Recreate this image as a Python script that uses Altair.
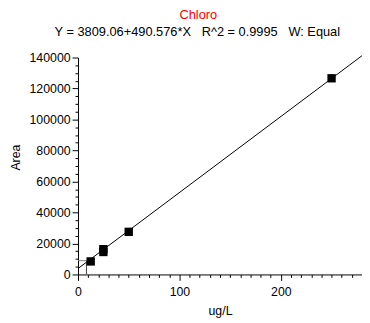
import altair as alt
import pandas as pd

# Calibration points (ug/L, Area)
conc = [12.5, 25, 25, 50, 250]
area = [8400, 14500, 16300, 27500, 126600]

# Fitted line end points (Y = 3809.06 + 490.576*X)
fit_x = [0, 282]
fit_y = [3809.06, 142151]

# Sample crosshair
cross_x = [8.3]
cross_y = [8900]

title_text = "Chloro"
subtitle_text = "Y = 3809.06+490.576*X\u00a0\u00a0\u00a0R^2 = 0.9995\u00a0\u00a0\u00a0W: Equal"

x_ticks = list(range(0, 281, 10))
y_ticks = list(range(0, 140001, 5000))

FONT = "Liberation Sans"

pts = pd.DataFrame({"x": conc, "y": area})
fit = pd.DataFrame({"x": fit_x, "y": fit_y})
cross = pd.DataFrame({"x": cross_x, "y": cross_y, "x0": [0], "y0": [0]})
txt = pd.DataFrame({"t": [title_text], "s": [subtitle_text]})

W, H = 288, 220

xscale = alt.Scale(domain=[0, 280], nice=False, zero=False)
yscale = alt.Scale(domain=[0, 140000], nice=False, zero=False)

xaxis = alt.Axis(
    title="ug/L", values=x_ticks, grid=False, labelOverlap=False,
    labelExpr="datum.value % 100 === 0 ? format(datum.value, 'd') : ''",
    tickSize={"condition": {"test": "datum.value % 100 === 0", "value": 6}, "value": 3},
    labelFont=FONT, labelFontSize=12.5, labelColor="black", labelPadding=5,
    titleFont=FONT, titleFontSize=12.5, titleFontWeight="normal", titleColor="black",
    titlePadding=7, domainColor="black", domainWidth=1, tickColor="black", tickWidth=1, labelFlush=False,
)
yaxis = alt.Axis(
    title="Area", values=y_ticks, grid=False, labelOverlap=False,
    labelExpr="datum.value % 20000 === 0 ? format(datum.value, 'd') : ''",
    tickSize={"condition": {"test": "datum.value % 20000 === 0", "value": 6}, "value": 3},
    labelFont=FONT, labelFontSize=12.5, labelColor="black", labelPadding=2,
    titleFont=FONT, titleFontSize=12.5, titleFontWeight="normal", titleColor="black",
    titleY=101, titleX=-56, titleAngle=-90, titleBaseline="bottom", titleAlign="center",
    domainColor="black", domainWidth=1, tickColor="black", tickWidth=1, labelFlush=False,
)


def X(field):
    return alt.X(field, type="quantitative", scale=xscale, axis=xaxis)


def Y(field):
    return alt.Y(field, type="quantitative", scale=yscale, axis=yaxis)


line = alt.Chart(fit).mark_line(color="black", strokeWidth=1, clip=False).encode(
    x=X("x"), y=Y("y"))

hline = alt.Chart(cross).mark_rule(color="#808080", strokeWidth=1).encode(
    x=X("x0"), x2="x:Q", y=Y("y"))
vline = alt.Chart(cross).mark_rule(color="#404040", strokeWidth=1).encode(
    x=X("x"), y=Y("y0"), y2="y:Q")

points = alt.Chart(pts).mark_square(color="black", size=72, opacity=1, filled=True).encode(
    x=X("x"), y=Y("y"))

t1 = alt.Chart(txt).mark_text(color="#FF0000", font=FONT, fontSize=13, align="center", baseline="middle").encode(
    x=alt.value(122), y=alt.value(-43), text="t:N")
t2 = alt.Chart(txt).mark_text(color="black", font=FONT, fontSize=13, align="center", baseline="middle").encode(
    x=alt.value(121), y=alt.value(-26), text="s:N")

chart = alt.layer(line, hline, vline, points, t1, t2).properties(
    width=W, height=H,
    autosize=alt.AutoSizeParams(type="none"),
    padding={"left": 71, "top": 48, "right": 0, "bottom": 46},
    background="white",
).configure_view(stroke=None).configure_axis(labelOverlap=False)

chart.save("out.html", embed_options={"renderer": "svg", "actions": False})
